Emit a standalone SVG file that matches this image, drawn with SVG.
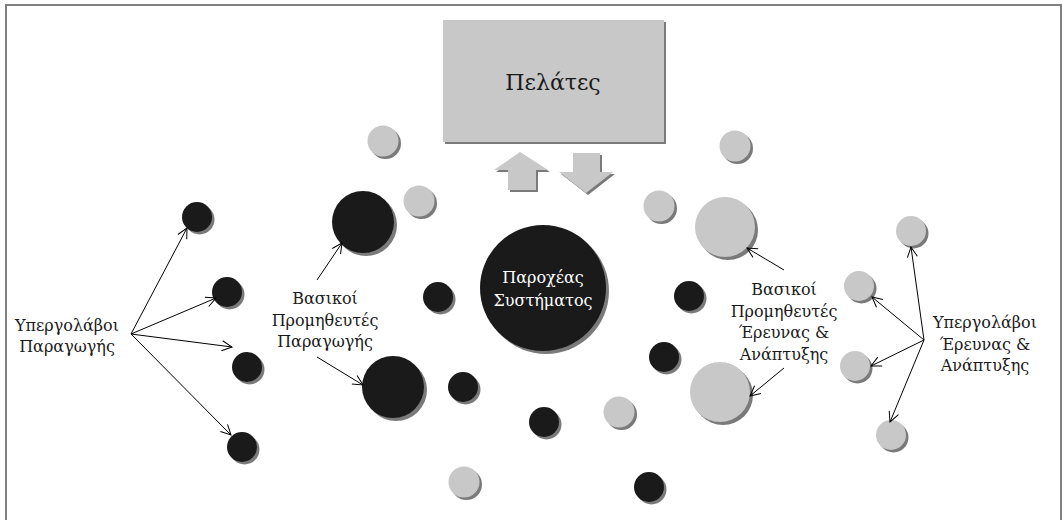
<svg xmlns="http://www.w3.org/2000/svg" width="1062" height="520" viewBox="0 0 1062 520">
<defs>
<marker id="ah" viewBox="0 0 12 12" refX="11" refY="6" markerWidth="12" markerHeight="12" markerUnits="userSpaceOnUse" orient="auto">
<path d="M1,1 L11,6 L1,11" fill="none" stroke="#000" stroke-width="1"/>
</marker>
</defs>
<style>
.sh{fill:#7a7a7a}
.blk{fill:#1a1a1a}
.gry{fill:#c8c8c8}
.lbl{font-family:"DejaVu Serif","Liberation Serif",serif;font-size:16px;fill:#1a1a1a;text-anchor:middle}
.wht{fill:#ffffff}
.con{stroke:#000;stroke-width:1;fill:none;marker-end:url(#ah)}
</style>
<rect x="6" y="5" width="1055" height="530" fill="#fff" stroke="#808080" stroke-width="2"/>

<g id="customers">
<rect x="445" y="22" width="221" height="122" class="sh"/>
<rect x="443" y="20" width="221" height="122" class="gry"/>
<text x="553" y="90" class="lbl" style="font-size:22px">Πελάτες</text>
</g>
<g id="arrow-up">
<path d="M510,192 L510,172 L496,172 L522,154 L550,172 L538,172 L538,192 Z" class="sh"/>
<path d="M508,190 L508,170 L494,170 L520,152 L548,170 L536,170 L536,190 Z" class="gry"/>
</g>
<g id="arrow-down">
<path d="M575,155 L602,155 L602,174 L615,174 L588,195 L561,174 L575,174 Z" class="sh"/>
<path d="M573,153 L600,153 L600,172 L613,172 L586,193 L559,172 L573,172 Z" class="gry"/>
</g>

<g id="system-provider">
<circle cx="546" cy="291" r="63" class="sh"/>
<circle cx="543" cy="288" r="63" class="blk"/>
<text x="543" y="283" class="lbl wht">Παροχέας</text>
<text x="543" y="306" class="lbl wht">Συστήματος</text>
</g>

<g id="prod-subs">
<circle cx="199.5" cy="219.5" r="15" class="sh"/><circle cx="197" cy="217" r="15" class="blk"/>
<circle cx="229.5" cy="294.5" r="15" class="sh"/><circle cx="227" cy="292" r="15" class="blk"/>
<circle cx="249.5" cy="369.5" r="15" class="sh"/><circle cx="247" cy="367" r="15" class="blk"/>
<circle cx="244.5" cy="449.5" r="15" class="sh"/><circle cx="242" cy="447" r="15" class="blk"/>
</g>
<g id="prod-key">
<circle cx="366" cy="225" r="31" class="sh"/><circle cx="363" cy="222" r="31" class="blk"/>
<circle cx="396" cy="390" r="31" class="sh"/><circle cx="393" cy="387" r="31" class="blk"/>
</g>
<g id="black-small">
<circle cx="440.5" cy="299.5" r="15" class="sh"/><circle cx="438" cy="297" r="15" class="blk"/>
<circle cx="465.5" cy="389.5" r="15" class="sh"/><circle cx="463" cy="387" r="15" class="blk"/>
<circle cx="546.5" cy="424.5" r="15" class="sh"/><circle cx="544" cy="422" r="15" class="blk"/>
<circle cx="691.5" cy="298.5" r="15" class="sh"/><circle cx="689" cy="296" r="15" class="blk"/>
<circle cx="666.5" cy="359.5" r="15" class="sh"/><circle cx="664" cy="357" r="15" class="blk"/>
<circle cx="651.5" cy="489.5" r="15" class="sh"/><circle cx="649" cy="487" r="15" class="blk"/>
</g>
<g id="gray-small">
<circle cx="385.5" cy="143.5" r="15.5" class="sh"/><circle cx="383" cy="141" r="15.5" class="gry"/>
<circle cx="421.5" cy="203.5" r="15.5" class="sh"/><circle cx="419" cy="201" r="15.5" class="gry"/>
<circle cx="661.5" cy="208.5" r="15.5" class="sh"/><circle cx="659" cy="206" r="15.5" class="gry"/>
<circle cx="737.5" cy="148.5" r="15.5" class="sh"/><circle cx="735" cy="146" r="15.5" class="gry"/>
<circle cx="621.5" cy="414.5" r="15.5" class="sh"/><circle cx="619" cy="412" r="15.5" class="gry"/>
<circle cx="466.5" cy="484.5" r="15.5" class="sh"/><circle cx="464" cy="482" r="15.5" class="gry"/>
</g>
<g id="rd-key">
<circle cx="728" cy="230" r="30" class="sh"/><circle cx="725" cy="227" r="30" class="gry"/>
<circle cx="723" cy="395" r="30" class="sh"/><circle cx="720" cy="392" r="30" class="gry"/>
</g>
<g id="rd-subs">
<circle cx="913.5" cy="233.5" r="15" class="sh"/><circle cx="911" cy="231" r="15" class="gry"/>
<circle cx="861.5" cy="288.5" r="15" class="sh"/><circle cx="859" cy="286" r="15" class="gry"/>
<circle cx="857.5" cy="368.5" r="15" class="sh"/><circle cx="855" cy="366" r="15" class="gry"/>
<circle cx="893.5" cy="437.5" r="15" class="sh"/><circle cx="891" cy="435" r="15" class="gry"/>
</g>

<g id="label-prod-subs">
<text x="67" y="331" class="lbl">Υπεργολάβοι</text>
<text x="67" y="352" class="lbl">Παραγωγής</text>
</g>
<g id="label-prod-key">
<text x="325" y="304" class="lbl">Βασικοί</text>
<text x="325" y="326" class="lbl">Προμηθευτές</text>
<text x="325" y="347" class="lbl">Παραγωγής</text>
</g>
<g id="label-rd-key">
<text x="784" y="295" class="lbl">Βασικοί</text>
<text x="784" y="317" class="lbl">Προμηθευτές</text>
<text x="784" y="338" class="lbl">Έρευνας &amp;</text>
<text x="784" y="360" class="lbl">Ανάπτυξης</text>
</g>
<g id="label-rd-subs">
<text x="985" y="328" class="lbl">Υπεργολάβοι</text>
<text x="985" y="350" class="lbl">Έρευνας &amp;</text>
<text x="985" y="371" class="lbl">Ανάπτυξης</text>
</g>

<g id="connectors">
<line x1="131" y1="334" x2="187" y2="228" class="con"/>
<line x1="131" y1="334" x2="216" y2="298" class="con"/>
<line x1="131" y1="334" x2="232" y2="347" class="con"/>
<line x1="131" y1="334" x2="231" y2="435" class="con"/>
<line x1="317" y1="280" x2="342" y2="243" class="con"/>
<line x1="317" y1="357" x2="363" y2="385" class="con"/>
<line x1="784" y1="270" x2="747" y2="248" class="con"/>
<line x1="784" y1="368" x2="750" y2="396" class="con"/>
<line x1="924" y1="340" x2="911" y2="247" class="con"/>
<line x1="924" y1="340" x2="872" y2="297" class="con"/>
<line x1="924" y1="340" x2="871" y2="366" class="con"/>
<line x1="924" y1="340" x2="890" y2="422" class="con"/>
</g>
</svg>
